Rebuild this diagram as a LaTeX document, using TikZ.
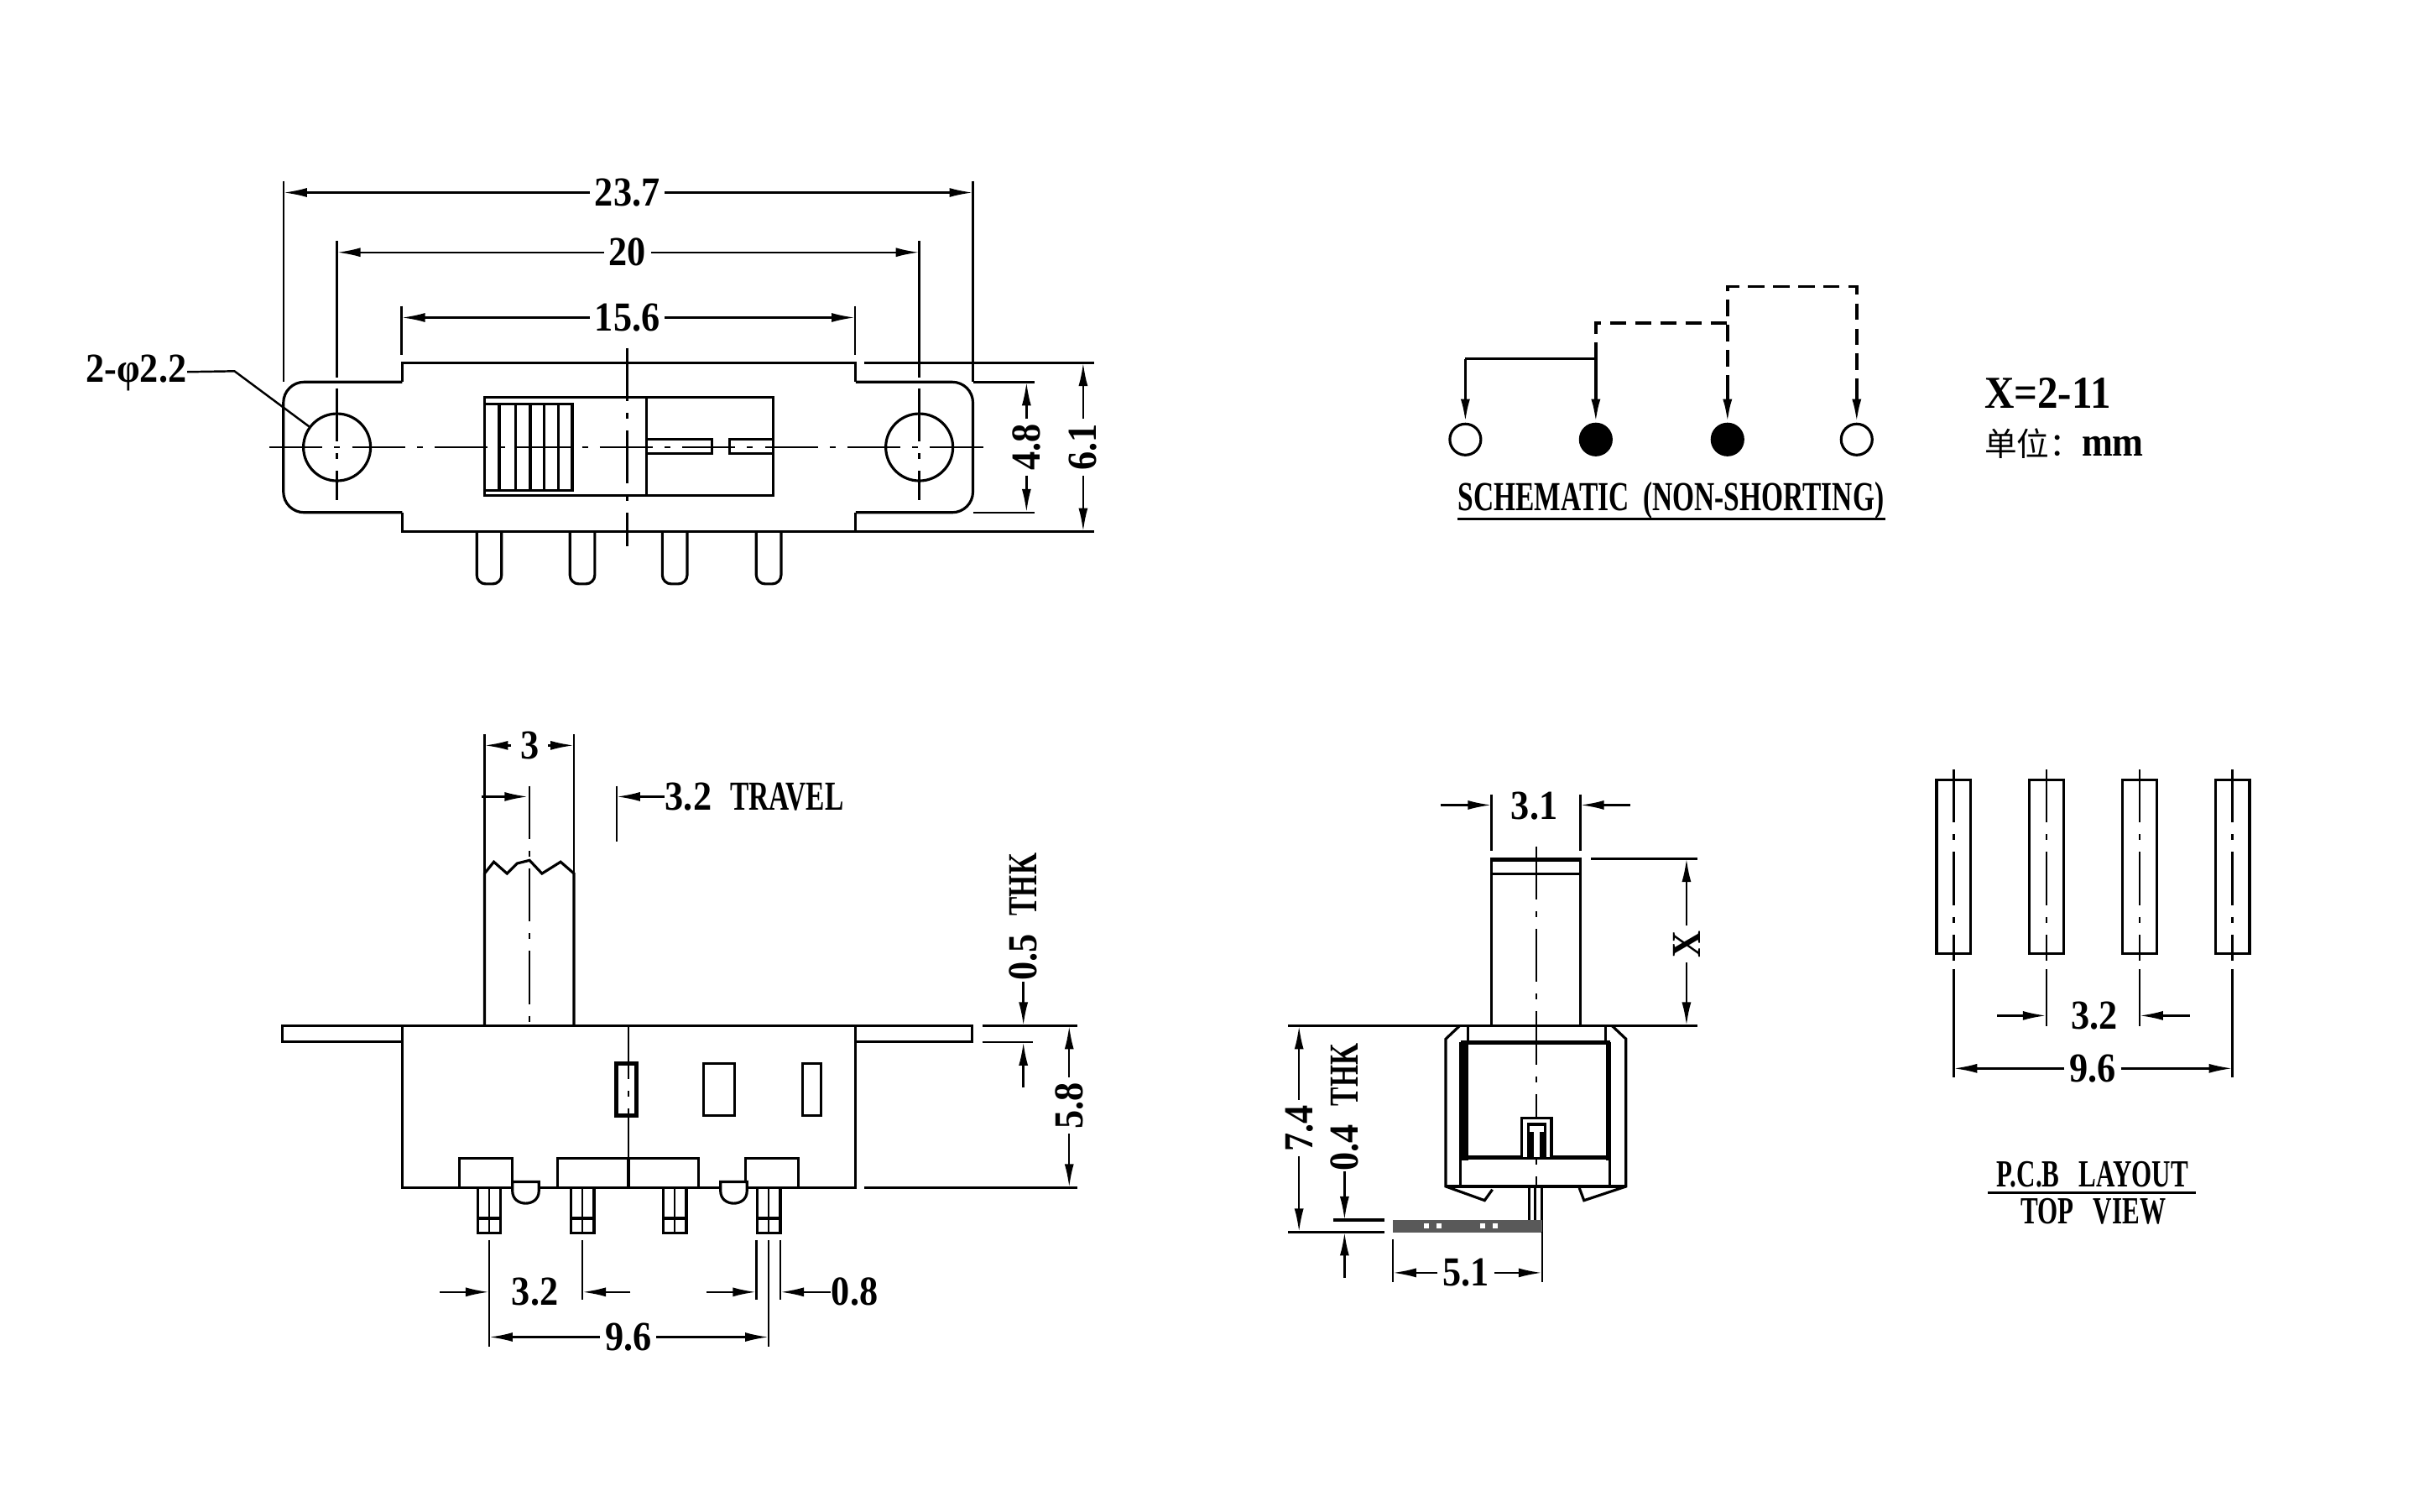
\documentclass[tikz,border=0pt]{standalone}
\usepackage{fontspec}
\setmainfont[FakeStretch=0.9]{Liberation Serif}
\newfontfamily\narrowfont[FakeStretch=0.68]{Liberation Serif}
\newfontfamily\cjk{Noto Sans CJK SC}
\usetikzlibrary{arrows.meta}
\tikzset{
	part/.style={line width=0.9pt},
	heavy/.style={line width=1.5pt},
	dimline/.style={line width=0.7pt},
	dimarrow/.style={line width=0.7pt,-{Latex[length=2.8mm,width=1.1mm]}},
	centreline/.style={line width=0.7pt,dash pattern=on 18pt off 4pt on 2pt off 4pt},
	linkdash/.style={line width=1pt,dash pattern=on 5.5pt off 3pt},
	linkarrow/.style={line width=1pt,-{Latex[length=2.8mm,width=1.1mm]}},
	dimtext/.style={font=\bfseries\fontsize{14}{14}\selectfont,fill=white,inner sep=1.5pt},
	plaintext/.style={font=\bfseries\fontsize{14}{14}\selectfont,inner sep=0pt}
}
\begin{document}
\begin{tikzpicture}[x=0.018508cm,y=-0.018508cm]
	\useasboundingbox (0,0) rectangle (1568,973.6);

	% top view
	\draw [part] (259,246) -- (259,233.5) -- (551,233.5) -- (551,246);
	\draw [part,rounded corners=7pt] (259,246) -- (182.5,246) -- (182.5,330) -- (259,330);
	\draw [part,rounded corners=7pt] (551,246) -- (626.5,246) -- (626.5,330) -- (551,330);
	\draw [part] (259,330) -- (259,342.3) -- (551,342.3) -- (551,330);
	\node [circle,draw,part,minimum size=0.8cm,inner sep=0pt] (holeL) at (217,288) {};
	\node [circle,draw,part,minimum size=0.8cm,inner sep=0pt] (holeR) at (592,288) {};
	\draw [centreline] (173.5,288) -- (635,288);
	\draw [centreline] (404,224) -- (404,352);
	\draw [centreline] (217,250) -- (217,322);
	\draw [centreline] (592,250) -- (592,322);
	\draw [part] (312,256) rectangle (498,319);
	\draw [part] (416.5,256) -- (416.5,319);
	\draw [part] (312,260) rectangle (368.5,316);
	\foreach \rib in {321.5,332,341.5,350.5,359.5} {
		\draw [part] (\rib,260) -- (\rib,316);
	}
	\draw [part] (416.5,283) rectangle (458.5,292);
	\draw [part] (470,283) rectangle (498,292);
	\foreach \pin in {315,375,434.5,495} {
		\draw [part,rounded corners=3pt] (\pin-8,342.3) -- (\pin-8,376) -- (\pin+8,376) -- (\pin+8,342.3);
	}

	\node [dimtext] (widthA) at (404,124) {23.7};
	\coordinate (widthAl) at (182.5,124);
	\coordinate (widthAr) at (626.5,124);
	\draw [dimarrow] (widthA) -- (widthAl);
	\draw [dimarrow] (widthA) -- (widthAr);
	\draw [dimline] (182.5,116.5) -- (182.5,246);
	\draw [dimline] (626.5,116.5) -- (626.5,246);

	\node [dimtext] (widthB) at (404,162.5) {20};
	\coordinate (widthBl) at (217,162.5);
	\coordinate (widthBr) at (592,162.5);
	\draw [dimarrow] (widthB) -- (widthBl);
	\draw [dimarrow] (widthB) -- (widthBr);
	\draw [dimline] (217,155) -- (217,243);
	\draw [dimline] (592,155) -- (592,243);

	\node [dimtext] (widthC) at (404,204.5) {15.6};
	\coordinate (widthCl) at (258.6,204.5);
	\coordinate (widthCr) at (550.6,204.5);
	\draw [dimarrow] (widthC) -- (widthCl);
	\draw [dimarrow] (widthC) -- (widthCr);
	\draw [dimline] (258.6,197) -- (258.6,228.5);
	\draw [dimline] (550.6,197) -- (550.6,228.5);

	\node [plaintext,anchor=east] (holeText) at (120.5,240) {2-φ2.2};
	\coordinate (holeBend) at (151,239);
	\draw [dimline] (holeText) -- (holeBend) -- (holeL);

	\draw [part] (556.5,233.5) -- (704.5,233.5);
	\draw [part] (551,342.3) -- (704.5,342.3);
	\draw [dimline] (626.5,246) -- (666,246);
	\draw [dimline] (626.5,330) -- (666,330);
	\node [dimtext,rotate=90] (heightA) at (661,288) {4.8};
	\coordinate (heightAt) at (661,246);
	\coordinate (heightAb) at (661,330);
	\draw [dimarrow] (heightA) -- (heightAt);
	\draw [dimarrow] (heightA) -- (heightAb);
	\node [dimtext,rotate=90] (heightB) at (697.5,288) {6.1};
	\coordinate (heightBt) at (697.5,233.5);
	\coordinate (heightBb) at (697.5,342.3);
	\draw [dimarrow] (heightB) -- (heightBt);
	\draw [dimarrow] (heightB) -- (heightBb);

	% schematic
	\node [circle,draw,part,minimum size=0.37cm,inner sep=0pt] (termA) at (943.6,283) {};
	\node [circle,draw,part,fill,minimum size=0.37cm,inner sep=0pt] (termB) at (1027.6,283) {};
	\node [circle,draw,part,fill,minimum size=0.37cm,inner sep=0pt] (termC) at (1112.4,283) {};
	\node [circle,draw,part,minimum size=0.37cm,inner sep=0pt] (termD) at (1195.6,283) {};
	\coordinate (linkA) at (943.6,231);
	\coordinate (linkB) at (1027.6,231);
	\coordinate (linkC) at (1027.6,208);
	\coordinate (linkD) at (1112.4,208);
	\coordinate (linkE) at (1112.4,184.6);
	\coordinate (linkF) at (1195.6,184.6);
	\coordinate (linkG) at (1112.4,252);
	\coordinate (linkH) at (1195.6,252);
	\draw [linkarrow] (linkA) -- (termA);
	\draw [line width=1pt] (linkA) -- (linkB);
	\draw [linkarrow] (linkB) -- (termB);
	\draw [linkdash] (linkB) -- (linkC) -- (linkD);
	\draw [linkdash] (linkG) -- (linkE) -- (linkF) -- (linkH);
	\draw [linkarrow] (linkG) -- (termC);
	\draw [linkarrow] (linkH) -- (termD);
	\node [plaintext] (schemText) at (1076,322.5) {\narrowfont SCHEMATIC\ \ (NON-SHORTING)};
	\coordinate (schemL) at (938.7,334);
	\coordinate (schemR) at (1214,334);
	\draw [part] (schemL) -- (schemR);
	\node [plaintext,anchor=west,font=\bfseries\fontsize{15.5}{15.5}\selectfont] (rangeText) at (1277.5,253) {X=2-11};
	\node [plaintext,anchor=west] (unitText) at (1277.5,285.5) {{\cjk\mdseries\fontsize{11}{11}\selectfont 单位：}mm};

	% side view
	\draw [part] (182,660.5) rectangle (259,671);
	\draw [part] (551,660.5) rectangle (626,671);
	\draw [part] (259,660.5) rectangle (551,764.7);
	\draw [part] (312,660.5) -- (312,562.5) -- (318,555) -- (326.5,562.5) -- (333,556) -- (341,554) -- (349,562.5) -- (361,555) -- (369.6,562.5) -- (369.6,660.5);
	\draw [centreline] (341,506) -- (341,660.5);
	\draw [centreline] (404.7,660.5) -- (404.7,746);
	\draw [heavy] (397,685) rectangle (410,718.5);
	\draw [part] (453,685) rectangle (473,718.5);
	\draw [part] (516.7,685) rectangle (528.7,718.5);
	\draw [part,fill=white] (296,746) rectangle (330,764.7);
	\draw [part,fill=white] (359,746) rectangle (450,764.7);
	\draw [part] (404.7,746) -- (404.7,764.7);
	\draw [part,fill=white] (480,746) rectangle (514,764.7);
	\draw [part,fill=white] (330,761) -- (330,767) .. controls (330,777.5) and (347,777.5) .. (347,767) -- (347,761) -- cycle;
	\draw [part,fill=white] (464,761) -- (464,767) .. controls (464,777.5) and (481,777.5) .. (481,767) -- (481,761) -- cycle;
	\foreach \pin in {315,375,434.5,495} {
		\draw [part] (\pin-7.5,764.7) rectangle (\pin+7.5,794);
		\draw [part] (\pin-7.5,784.5) -- (\pin+7.5,784.5);
		\draw [dimline] (\pin,764.7) -- (\pin,794);
	}

	\node [dimtext,inner xsep=3pt] (leverW) at (341,480) {3};
	\coordinate (leverWl) at (312,480);
	\coordinate (leverWr) at (369.6,480);
	\draw [dimarrow] (leverW) -- (leverWl);
	\draw [dimarrow] (leverW) -- (leverWr);
	\draw [dimline] (312,473) -- (312,562);
	\draw [dimline] (369.6,473) -- (369.6,562);

	\node [plaintext,anchor=west] (travelText) at (428,513) {3.2\ \ {\narrowfont TRAVEL}};
	\coordinate (travelA) at (310,513);
	\coordinate (travelB) at (340,513);
	\coordinate (travelC) at (397,513);
	\draw [dimarrow] (travelA) -- (travelB);
	\draw [dimarrow] (travelText) -- (travelC);
	\draw [dimline] (397,506) -- (397,542);

	\node [dimtext] (pitchA) at (344.5,832) {3.2};
	\coordinate (pitchAa) at (283,832);
	\coordinate (pitchAb) at (315,832);
	\coordinate (pitchAc) at (406,832);
	\coordinate (pitchAd) at (375,832);
	\draw [dimarrow] (pitchAa) -- (pitchAb);
	\draw [dimarrow] (pitchAc) -- (pitchAd);
	\draw [dimline] (315,798.5) -- (315,867);
	\draw [dimline] (375,798.5) -- (375,837);

	\node [plaintext,anchor=west] (pinW) at (535,832) {0.8};
	\coordinate (pinWa) at (455,832);
	\coordinate (pinWb) at (487,832);
	\coordinate (pinWc) at (502.5,832);
	\draw [dimarrow] (pinWa) -- (pinWb);
	\draw [dimarrow] (pinW) -- (pinWc);
	\draw [dimline] (487,798.5) -- (487,837);
	\draw [dimline] (495,798.5) -- (495,867);
	\draw [dimline] (502.5,798.5) -- (502.5,837);

	\node [dimtext] (pitchB) at (404.6,861) {9.6};
	\coordinate (pitchBl) at (315,861);
	\coordinate (pitchBr) at (495,861);
	\draw [dimarrow] (pitchB) -- (pitchBl);
	\draw [dimarrow] (pitchB) -- (pitchBr);

	\draw [dimline] (632.5,660.5) -- (694,660.5);
	\draw [dimline] (632.5,671) -- (665,671);
	\draw [dimline] (556.5,764.7) -- (694,764.7);
	\node [plaintext,rotate=90] (flangeText) at (659,590.5) {0.5\ \ {\narrowfont THK}};
	\coordinate (flangeT) at (659,660.5);
	\coordinate (flangeB) at (659,671);
	\coordinate (flangeE) at (659,700.5);
	\draw [dimarrow] (flangeText) -- (flangeT);
	\draw [dimarrow] (flangeE) -- (flangeB);
	\node [dimtext,rotate=90] (bodyH) at (688.5,712) {5.8};
	\coordinate (bodyHt) at (688.5,660.5);
	\coordinate (bodyHb) at (688.5,764.7);
	\draw [dimarrow] (bodyH) -- (bodyHt);
	\draw [dimarrow] (bodyH) -- (bodyHb);

	% end view
	\draw [part] (960.4,660.5) -- (960.4,552.8) -- (1017.7,552.8) -- (1017.7,660.5);
	\draw [heavy] (960.4,553.5) -- (1017.7,553.5);
	\draw [part] (960.4,562.6) -- (1017.7,562.6);
	\draw [part] (940,660.5) -- (931,669) -- (931,764) -- (956,773) -- (961,766);
	\draw [part] (1038,660.5) -- (1047,669) -- (1047,764) -- (1020,773) -- (1017,765);
	\draw [part] (931,764) -- (1047,764);
	\draw [part] (945.4,660.5) -- (945.4,671);
	\draw [part] (1034,660.5) -- (1034,671);
	\draw [part] (940.6,671) -- (940.6,764);
	\draw [part] (1036.8,671) -- (1036.8,764);
	\fill (940.6,670) rectangle (945.4,747);
	\fill (1034,670) rectangle (1036.8,747);
	\draw [heavy] (940.6,671.5) -- (1036.8,671.5);
	\draw [heavy] (940.6,745.5) -- (1036.8,745.5);
	\draw [centreline] (989.3,545) -- (989.3,765);
	\draw [part,fill=white] (980,720) rectangle (999,746);
	\draw [part] (984,724) rectangle (995,746);
	\draw [heavy] (986,729) -- (986,746) (993,729) -- (993,746);
	\draw [part] (984.5,764) -- (984.5,786) (988.5,764) -- (988.5,786) (993,764) -- (993,793);
	\fill [black!65] (897,785.6) rectangle (993,793.8);
	\foreach \spot in {918.6,926.6,954.7,962.8} {
		\fill [white] (\spot-1.5,788) rectangle (\spot+1.5,791);
	}

	\node [plaintext] (stemW) at (988,519) {3.1};
	\coordinate (stemWa) at (927.7,518.4);
	\coordinate (stemWb) at (960.4,518.4);
	\coordinate (stemWc) at (1049.8,518.4);
	\coordinate (stemWd) at (1017.7,518.4);
	\draw [dimarrow] (stemWa) -- (stemWb);
	\draw [dimarrow] (stemWc) -- (stemWd);
	\draw [dimline] (960.4,511.5) -- (960.4,548);
	\draw [dimline] (1017.7,511.5) -- (1017.7,548);

	\draw [part] (1024.5,552.8) -- (1093,552.8);
	\draw [part] (829.6,660.5) -- (1093,660.5);
	\node [dimtext,rotate=90] (stemX) at (1086,608) {X};
	\coordinate (stemXt) at (1086,552.8);
	\coordinate (stemXb) at (1086,660.5);
	\draw [dimarrow] (stemX) -- (stemXt);
	\draw [dimarrow] (stemX) -- (stemXb);

	\node [dimtext,rotate=90] (totalH) at (836.5,726.5) {7.4};
	\coordinate (totalHt) at (836.5,660.5);
	\coordinate (totalHb) at (836.5,793.4);
	\draw [dimarrow] (totalH) -- (totalHt);
	\draw [dimarrow] (totalH) -- (totalHb);

	\draw [part] (858.5,785.6) -- (891.6,785.6);
	\draw [part] (829.6,793.4) -- (891.6,793.4);
	\node [plaintext,rotate=90] (tabText) at (865.8,713) {0.4\ \ {\narrowfont THK}};
	\coordinate (tabT) at (865.8,785.6);
	\coordinate (tabB) at (865.8,793.4);
	\coordinate (tabE) at (865.8,823);
	\draw [dimarrow] (tabText) -- (tabT);
	\draw [dimarrow] (tabE) -- (tabB);

	\node [dimtext] (tabL) at (944,819.6) {5.1};
	\coordinate (tabLl) at (896.8,819.6);
	\coordinate (tabLr) at (993,819.6);
	\draw [dimarrow] (tabL) -- (tabLl);
	\draw [dimarrow] (tabL) -- (tabLr);
	\draw [dimline] (896.8,798) -- (896.8,825.5);
	\draw [dimline] (993,793) -- (993,825.5);

	% pcb layout
	\foreach \pad in {1258,1317.7,1377.7,1437.6} {
		\draw [part] (\pad-11,502.4) rectangle (\pad+11,614);
		\draw [centreline] (\pad,495.5) -- (\pad,618.5);
	}
	\draw [dimline] (1258,624) -- (1258,694);
	\draw [dimline] (1437.6,624) -- (1437.6,694);
	\draw [dimline] (1317.7,624) -- (1317.7,661);
	\draw [dimline] (1377.7,624) -- (1377.7,661);

	\node [plaintext] (padA) at (1348.5,654) {3.2};
	\coordinate (padAa) at (1286,654);
	\coordinate (padAb) at (1317.7,654);
	\coordinate (padAc) at (1410,654);
	\coordinate (padAd) at (1377.7,654);
	\draw [dimarrow] (padAa) -- (padAb);
	\draw [dimarrow] (padAc) -- (padAd);

	\node [dimtext] (padB) at (1347.5,688) {9.6};
	\coordinate (padBl) at (1258,688);
	\coordinate (padBr) at (1437.6,688);
	\draw [dimarrow] (padB) -- (padBl);
	\draw [dimarrow] (padB) -- (padBr);

	\node [plaintext,font=\bfseries\fontsize{13}{13}\selectfont] (pcbText) at (1347.5,756.5) {\narrowfont P.C.B\ \ \ LAYOUT};
	\coordinate (pcbL) at (1280,768);
	\coordinate (pcbR) at (1414,768);
	\draw [part] (pcbL) -- (pcbR);
	\node [plaintext,font=\bfseries\fontsize{13}{13}\selectfont] (viewText) at (1348,780) {\narrowfont TOP\ \ \ VIEW};
\end{tikzpicture}
\end{document}
